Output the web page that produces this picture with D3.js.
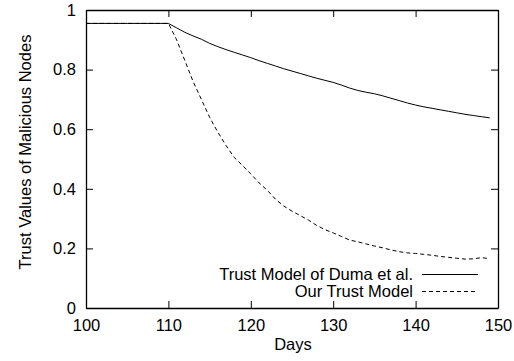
<!DOCTYPE html>
<html>
<head>
<meta charset="utf-8">
<script src="https://cdn.jsdelivr.net/npm/d3@7"></script>
<style>
  body { margin: 0; background: #fff; }
  text { font-family: "Liberation Sans", Arial, sans-serif; fill: #000; }
  .axis path, .axis line { stroke: #000; }
</style>
</head>
<body>
<div id="chart"></div>
<script>
// Data
var days = [100, 101, 102, 103, 104, 105, 106, 107, 108, 109, 110,
  111, 112, 113, 114, 115, 116, 117, 118, 119, 120,
  121, 122, 123, 124, 125, 126, 127, 128, 129, 130,
  131, 132, 133, 134, 135, 136, 137, 138, 139, 140,
  141, 142, 143, 144, 145, 146, 147, 148, 149];

var dumaValues = [0.955, 0.955, 0.955, 0.955, 0.955, 0.955, 0.955, 0.955, 0.955, 0.955, 0.955,
  0.94, 0.925, 0.913, 0.902, 0.888, 0.877, 0.867, 0.858, 0.849, 0.84,
  0.83, 0.821, 0.812, 0.803, 0.795, 0.787, 0.779, 0.771, 0.764, 0.757,
  0.748, 0.738, 0.73, 0.724, 0.719, 0.712, 0.704, 0.696, 0.688, 0.681,
  0.675, 0.67, 0.665, 0.66, 0.655, 0.65, 0.646, 0.642, 0.638];

var ourValues = [0.955, 0.955, 0.955, 0.955, 0.955, 0.955, 0.955, 0.955, 0.955, 0.955, 0.955,
  0.9, 0.83, 0.76, 0.7, 0.64, 0.59, 0.545, 0.505, 0.478, 0.45,
  0.42, 0.395, 0.365, 0.342, 0.325, 0.31, 0.295, 0.277, 0.263, 0.252,
  0.24, 0.228, 0.222, 0.215, 0.208, 0.202, 0.195, 0.189, 0.185, 0.183,
  0.18, 0.177, 0.173, 0.17, 0.167, 0.164, 0.165, 0.169, 0.165];

var seriesNames = ["Trust Model of Duma et al.", "Our Trust Model"];
var xTicks = [100, 110, 120, 130, 140, 150];
var yTicks = [0, 0.2, 0.4, 0.6, 0.8, 1];

var width = 514, height = 361;
var margins = { top: 10, right: 16, bottom: 53, left: 86 };
var chartWidth = width - margins.left - margins.right;
var chartHeight = height - margins.top - margins.bottom;
var fontSize = "16.5px";

var svg = d3.select("#chart")
  .append("svg")
  .attr("width", width)
  .attr("height", height);

var chart = svg.append("g")
  .attr("transform", "translate(" + margins.left + "," + margins.top + ")");

var xScale = d3.scaleLinear().domain([100, 150]).range([0, chartWidth]);
var yScale = d3.scaleLinear().domain([0, 1]).range([chartHeight, 0]);

var fmtY = function(d) { return d === 0 || d === 1 ? String(d) : d3.format(".1f")(d); };

// Axes with inward ticks (mirrored on top and right)
chart.append("g")
  .attr("class", "axis x bottom")
  .attr("transform", "translate(0," + chartHeight + ")")
  .call(d3.axisBottom(xScale).tickValues(xTicks).tickSizeInner(-7).tickSizeOuter(0).tickPadding(11));

chart.append("g")
  .attr("class", "axis x top")
  .call(d3.axisTop(xScale).tickValues(xTicks).tickSizeInner(-7).tickSizeOuter(0).tickFormat(""));

chart.append("g")
  .attr("class", "axis y left")
  .call(d3.axisLeft(yScale).tickValues(yTicks).tickSizeInner(-7).tickSizeOuter(0).tickPadding(10).tickFormat(fmtY));

chart.append("g")
  .attr("class", "axis y right")
  .attr("transform", "translate(" + chartWidth + ",0)")
  .call(d3.axisRight(yScale).tickValues(yTicks).tickSizeInner(-7).tickSizeOuter(0).tickFormat(""));

chart.selectAll(".axis text").style("font-size", fontSize).attr("fill", "#000");
chart.selectAll(".axis path").attr("stroke-width", 1.3);

// Lines
var line = d3.line()
  .x(function(d) { return xScale(d[0]); })
  .y(function(d) { return yScale(d[1]); });

var dumaData = days.map(function(d, i) { return [d, dumaValues[i]]; });
var ourData = days.map(function(d, i) { return [d, ourValues[i]]; });

chart.append("path")
  .datum(dumaData)
  .attr("fill", "none")
  .attr("stroke", "#000")
  .attr("stroke-width", 1)
  .attr("d", line);

chart.append("path")
  .datum(ourData)
  .attr("fill", "none")
  .attr("stroke", "#000")
  .attr("stroke-width", 1)
  .attr("stroke-dasharray", "4,3")
  .attr("d", line);

// Legend
var legend = chart.append("g");
var legendRows = [
  { name: seriesNames[0], dash: null, y: 264.5 },
  { name: seriesNames[1], dash: "4,3", y: 281.5 }
];
legendRows.forEach(function(r) {
  legend.append("text")
    .attr("x", 327)
    .attr("y", r.y)
    .attr("dy", "0.35em")
    .attr("text-anchor", "end")
    .style("font-size", fontSize)
    .text(r.name);
  legend.append("line")
    .attr("x1", 336)
    .attr("x2", 392)
    .attr("y1", r.y)
    .attr("y2", r.y)
    .attr("stroke", "#000")
    .attr("stroke-width", 1)
    .attr("stroke-dasharray", r.dash);
});

// Axis titles
svg.append("text")
  .attr("x", 293)
  .attr("y", 350)
  .attr("text-anchor", "middle")
  .style("font-size", fontSize)
  .text("Days");

svg.append("text")
  .attr("transform", "translate(31,152) rotate(-90)")
  .attr("text-anchor", "middle")
  .style("font-size", fontSize)
  .text("Trust Values of Malicious Nodes");
</script>
</body>
</html>
